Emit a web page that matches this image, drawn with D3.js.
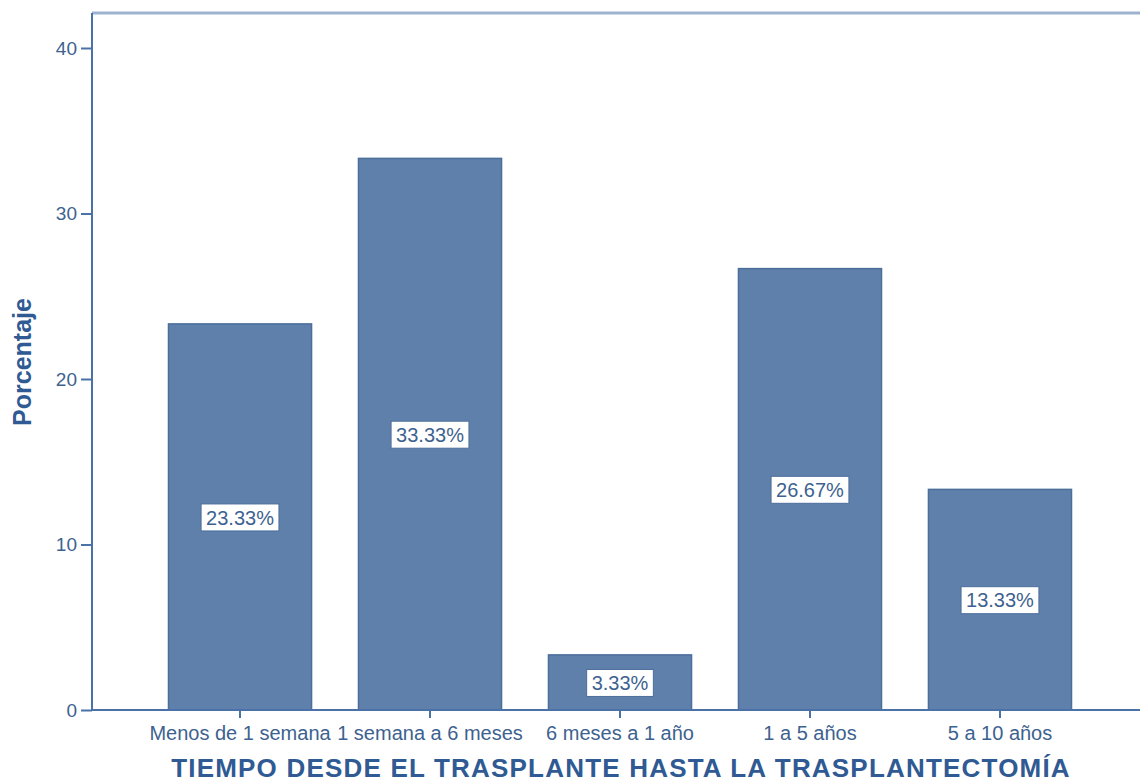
<!DOCTYPE html>
<html>
<head>
<meta charset="utf-8">
<script src="https://cdn.jsdelivr.net/npm/d3@7"></script>
<style>
  html, body { margin: 0; padding: 0; background: #fff; }
  svg { display: block; font-family: "Liberation Sans", Arial, sans-serif; }
</style>
</head>
<body>
<svg id="chart" width="1140" height="784"></svg>
<script>
// Time from transplant to transplantectomy, percentage of cases
const categories = ["Menos de 1 semana", "1 semana a 6 meses", "6 meses a 1 año", "1 a 5 años", "5 a 10 años"];
const percentages = [23.33, 33.33, 3.33, 26.67, 13.33];
const yTicks = [0, 10, 20, 30, 40];

const svg = d3.select("#chart");
const plotLeft = 92, plotRight = 1148, plotTop = 13, plotBottom = 710;
const axisColor = "#4a72a8";
const textColor = "#3d628f";
const titleColor = "#2f5a93";

const x = d3.scaleBand()
  .domain(categories)
  .range([plotLeft, plotRight])
  .paddingInner(0.247)
  .paddingOuter(0.4026);

const y = d3.scaleLinear()
  .domain([0, 40])
  .range([plotBottom, 48]);

// top frame line
svg.append("line")
  .attr("x1", plotLeft).attr("x2", 1140)
  .attr("y1", plotTop).attr("y2", plotTop)
  .attr("stroke", "#9db3cf").attr("stroke-width", 3);

// bars
svg.append("g").selectAll("rect")
  .data(percentages)
  .join("rect")
  .attr("x", (d, i) => x(categories[i]))
  .attr("width", x.bandwidth())
  .attr("y", d => y(d))
  .attr("height", d => plotBottom - y(d))
  .attr("fill", "#5f80aa")
  .attr("stroke", "#4b6e9b")
  .attr("stroke-width", 1.5);

// y axis
const yAxis = svg.append("g")
  .attr("transform", `translate(${plotLeft},0)`)
  .call(d3.axisLeft(y).tickValues(yTicks).tickSize(11).tickPadding(4).tickFormat(d3.format("d")));
yAxis.select(".domain").attr("d", `M0,${plotBottom}V${plotTop}`).attr("stroke", axisColor).attr("stroke-width", 2);
yAxis.selectAll(".tick line").attr("stroke", axisColor).attr("stroke-width", 2);
yAxis.selectAll(".tick text")
  .attr("fill", textColor)
  .style("font-size", "19px")
  .style("font-family", "Liberation Sans, Arial, sans-serif");

// x axis
const xAxis = svg.append("g")
  .attr("transform", `translate(0,${plotBottom})`)
  .call(d3.axisBottom(x).tickSize(8).tickPadding(8).tickSizeOuter(0));
xAxis.select(".domain").attr("d", `M${plotLeft},0H1140`).attr("stroke", axisColor).attr("stroke-width", 2);
xAxis.selectAll(".tick line").attr("stroke", axisColor).attr("stroke-width", 2);
xAxis.selectAll(".tick text")
  .attr("fill", textColor)
  .style("font-size", "20px")
  .style("font-family", "Liberation Sans, Arial, sans-serif");

// value labels at half bar height
const labels = svg.append("g").selectAll("g")
  .data(percentages)
  .join("g")
  .attr("transform", (d, i) => `translate(${x(categories[i]) + x.bandwidth() / 2},${y(d / 2)})`);

labels.append("rect")
  .attr("fill", "#fff")
  .attr("stroke", "#4b6e9b")
  .attr("stroke-width", 1);

labels.append("text")
  .attr("text-anchor", "middle")
  .attr("dy", "0.38em")
  .attr("fill", textColor)
  .style("font-size", "20px")
  .text(d => d.toFixed(2) + "%")
  .each(function () {
    const w = this.getComputedTextLength() + 10;
    d3.select(this.parentNode).select("rect")
      .attr("x", -w / 2).attr("y", -13)
      .attr("width", w).attr("height", 27);
  });

// axis titles
svg.append("text")
  .attr("x", 621).attr("y", 777)
  .attr("text-anchor", "middle")
  .attr("fill", titleColor)
  .style("font-size", "26px")
  .style("letter-spacing", "1.2px")
  .style("font-weight", "bold")
  .text("TIEMPO DESDE EL TRASPLANTE HASTA LA TRASPLANTECTOMÍA");

svg.append("text")
  .attr("transform", "translate(31,362) rotate(-90)")
  .attr("text-anchor", "middle")
  .attr("fill", titleColor)
  .style("font-size", "25px")
  .style("font-weight", "bold")
  .text("Porcentaje");
</script>
</body>
</html>
